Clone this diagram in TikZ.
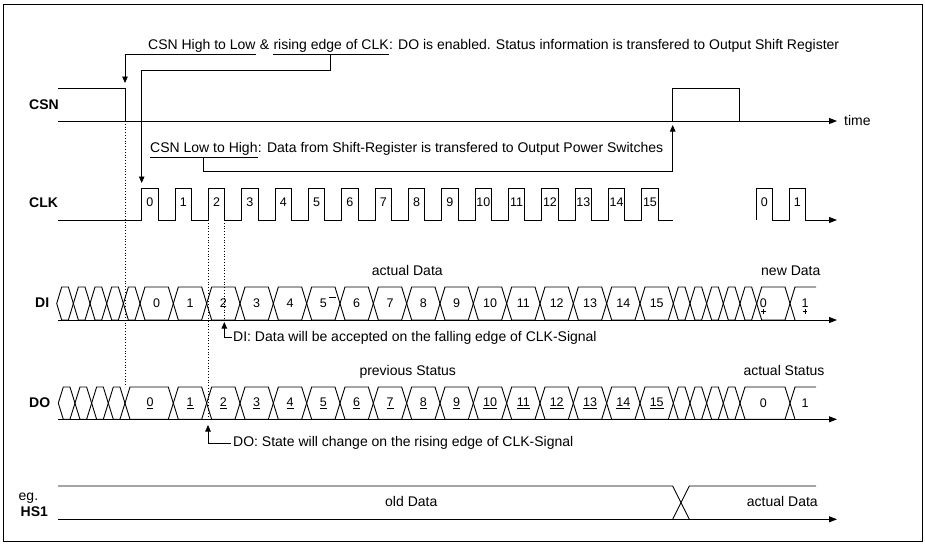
\documentclass[tikz,border=0pt]{standalone}
\usepackage{fontspec}
\setmainfont{Liberation Sans}
\usetikzlibrary{arrows.meta,calc}
\newcommand{\bw}{5}
\newcommand{\bcell}[4]{\draw[sig] ({#1},{(#3+#4)/2}) -- ({#1+\bw},#3) -- ({#2-\bw},#3) -- ({#2},{(#3+#4)/2}) -- ({#2-\bw},#4) -- ({#1+\bw},#4) -- cycle;}
\begin{document}
\begin{tikzpicture}[x=1pt,y=-1pt,
  sig/.style={line width=0.9pt,black},
  axis/.style={sig,-{Triangle[length=8pt,width=6pt]}},
  arr/.style={line width=0.8pt,-{Triangle[length=6.5pt,width=5.5pt]}},
  dots/.style={line width=0.8pt,dotted},
  lbl/.style={font=\fontsize{14}{16}\selectfont\bfseries,inner sep=0},
  txt/.style={font=\fontsize{14}{16}\selectfont,inner sep=0,anchor=base west},
  dig/.style={font=\fontsize{12.5}{14}\selectfont,inner sep=0},
  ]
\useasboundingbox (0,0) rectangle (925,544);
\draw[line width=1pt] (3,4) rectangle (922.5,541);

% signal names
\node[lbl,anchor=west] (lcsn) at (29,105) {CSN};
\node[lbl,anchor=west] (lclk) at (29,203) {CLK};
\node[lbl,anchor=west] (ldi) at (35,303) {DI};
\node[lbl,anchor=west] (ldo) at (29,403) {DO};
\node[txt] (leg) at (18.5,500) {eg.};
\node[lbl,anchor=west] (lhs) at (20.5,511.7) {HS1};

% key points
\coordinate (csnfall) at (125,88);
\coordinate (csnrise) at (672.7,121);
\coordinate (clkzero) at (141.7,188);
\coordinate (lvlA) at (0,70);
\coordinate (lvlB) at (0,171);

% CSN
\draw[axis] (58,121) -- (837,121);
\draw[sig] (58,88) -- (125,88) -- (125,121);
\draw[sig] (672.7,121) -- (672.7,88) -- (739.3,88) -- (739.3,121);
\node[txt] (ltime) at (844,125.5) {time};

% CLK
\draw[sig] (58,220) foreach \k in {0,...,15} { -- (141.7+33.333*\k,220) -- ++(0,-32) -- ++(16.5,0) -- ++(0,32) } -- (672.7,220);
\foreach \k in {0,...,15} \node[dig] at (141.7+33.333*\k+8.25,202) {\k};
\draw[axis] (756,220) -- (756,188) -- (772.7,188) -- (772.7,220) -- (789,220) -- (789,188) -- (805.7,188) -- (805.7,220) -- (837,220);
\node[dig] at (764.3,202) {0};
\node[dig] at (797.3,202) {1};

% DI
\draw[axis] (58,320) -- (837,320);
\foreach \i in {0,...,4} {\bcell{56.7+16.667*\i}{56.7+16.667*(\i+1)}{287}{320}}
\foreach \k in {0,...,15} {\bcell{140+33.333*\k}{140+33.333*(\k+1)}{287}{320}
  \node[dig] at (156.7+33.333*\k,303.5) {\k};}
\foreach \i in {0,...,4} {\bcell{673.3+16.667*\i}{673.3+16.667*(\i+1)}{287}{320}}
\bcell{756.7}{790}{287}{320}
\draw[sig] (790,303.5) -- (795,287) -- (816,287);
\draw[sig] (790,303.5) -- (795,320);
\node[dig] at (763.3,303.5) {0};
\node[dig] at (805,303.5) {1};
\draw[line width=0.6pt] (763.3,309) -- (763.3,314) (761,311.5) -- (765.6,311.5);
\draw[line width=0.6pt] (805,309) -- (805,314) (802.7,311.5) -- (807.3,311.5);
\draw[line width=0.6pt] (329,297.3) -- (336,297.3);
\node[txt] (tact) at (371.7,275) {actual Data};
\node[txt] (tnew) at (761,275) {new Data};

% DO
\draw[axis] (58,419.3) -- (837,419.3);
\foreach \i in {0,...,3} {\bcell{58.3+16.667*\i}{58.3+16.667*(\i+1)}{387}{419.3}}
\bcell{125}{173.3}{387}{419.3}
\node[dig] at (150,403) {\underline{0}};
\foreach \k in {1,...,15} {\bcell{140+33.333*\k}{140+33.333*(\k+1)}{387}{419.3}
  \node[dig] at (156.7+33.333*\k,403) {\underline{\k}};}
\foreach \i in {0,...,3} {\bcell{673.3+16.667*\i}{673.3+16.667*(\i+1)}{387}{419.3}}
\bcell{740}{790}{387}{419.3}
\draw[sig] (790,403.2) -- (795,387) -- (816,387);
\draw[sig] (790,403.2) -- (795,419.3);
\node[dig] at (763.3,403) {0};
\node[dig] at (805,403) {1};
\node[txt] (tprev) at (359.3,375) {previous Status};
\node[txt] (tast) at (743.3,375) {actual Status};

% HS1
\draw[axis] (58,519.3) -- (837,519.3);
\draw[sig] (58,486) -- (672.7,486) -- (689.3,519.3);
\draw[sig] (672.7,519.3) -- (689.3,486) -- (816,486);
\node[txt] (told) at (385,506) {old Data};
\node[txt] (tactd) at (746.7,506) {actual Data};

% dotted guides
\draw[dots] (125,121) -- (125,387);
\draw[dots] (208,220) -- (208,419);
\draw[dots] (224.3,220) -- (224.3,320);

% annotation 1
\node[txt] (ta) at (148,49.3) {CSN High to Low};
\node[txt] (tb) at ([xshift=3.9pt]ta.base east) {\&};
\node[txt] (tc) at ([xshift=3.9pt]tb.base east) {rising edge of CLK};
\node[txt] (td) at (tc.base east) {: DO is enabled. Status information is transfered to Output Shift Register};
\draw[arr] ([yshift=-4.7pt]ta.base east) -| ([yshift=5pt]csnfall);
\draw[sig,line width=0.8pt] ([yshift=-4.7pt]tc.base west) -- ([yshift=-4.7pt]tc.base east);
\coordinate (ua) at ($([yshift=-4.7pt]tc.base west)!0.49!([yshift=-4.7pt]tc.base east)$);
\draw[arr] (ua) -- (ua |- lvlA) -| ([yshift=5pt]clkzero);

% annotation 2
\node[txt] (te) at (150,152.7) {CSN Low to High};
\node[txt] (tf) at (te.base east) {: Data from Shift-Register is transfered to Output Power Switches};
\draw[sig,line width=0.8pt] ([yshift=-5pt]te.base west) -- ([yshift=-5pt]te.base east);
\coordinate (ub) at ($([yshift=-5pt]te.base west)!0.5!([yshift=-5pt]te.base east)$);
\draw[arr] (ub) -- (ub |- lvlB) -| ([yshift=-4pt]csnrise);

% annotation DI
\node[txt] (tg) at (233,341) {DI: Data will be accepted on the falling edge of CLK-Signal};
\draw[arr] ([xshift=-1pt]tg.west) -| (224.3,322);

% annotation DO
\node[txt] (th) at (233,446.7) {DO: State will change on the rising edge of CLK-Signal};
\draw[arr] ([xshift=-2pt]th.west) -| (208,425);
\end{tikzpicture}
\end{document}
